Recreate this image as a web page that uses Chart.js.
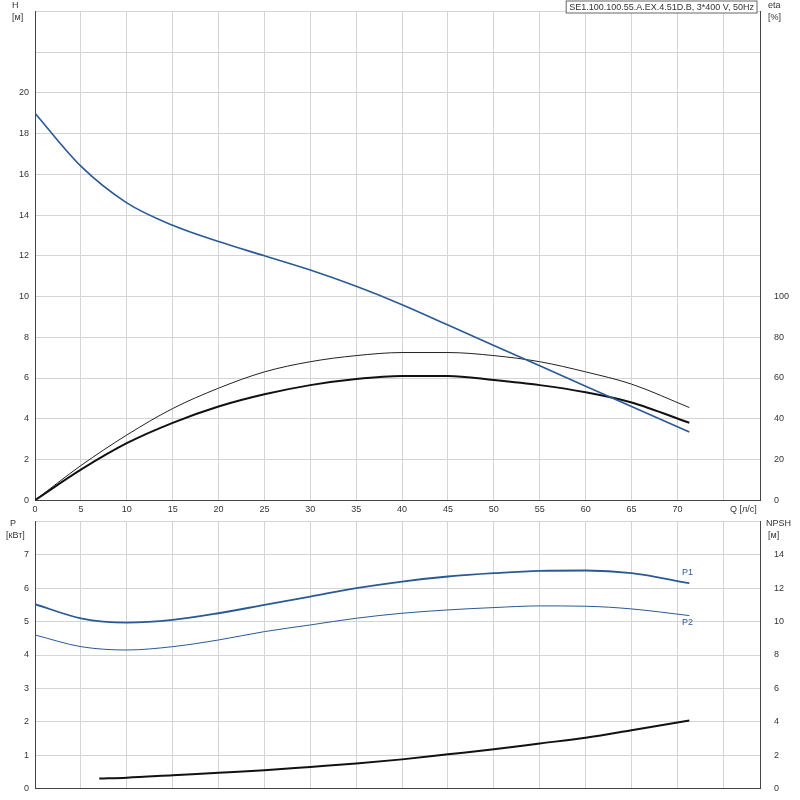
<!DOCTYPE html>
<html><head><meta charset="utf-8">
<script src="https://cdn.jsdelivr.net/npm/chart.js@4"></script>
<style>body{margin:0;background:#fff}#a{position:absolute;left:0;top:0;width:800px;height:519px}#b{position:absolute;left:0;top:510px;width:800px;height:290px}</style>
</head><body>
<div id="a"><canvas id="c1"></canvas></div>
<div id="b"><canvas id="c2"></canvas></div>
<script>
const q = [0,5,10,15,20,25,30,35,40,45,50,55,60,65,71.3];
const head = [19,16.4,14.6,13.5,12.7,12.0,11.3,10.5,9.6,8.6,7.6,6.6,5.6,4.6,3.35];
const etaPump = [0,17,32,45,55,63,68,71,72.5,72.5,71,68,63,57,45.5];
const etaTotal = [0,15,28,38,46,52,56.5,59.5,61,61,59,56.5,53,48,38];
const p1 = [5.52,5.1,4.97,5.05,5.25,5.5,5.75,6.0,6.2,6.35,6.45,6.52,6.53,6.45,6.15];
const p2 = [4.6,4.25,4.15,4.25,4.45,4.7,4.9,5.1,5.25,5.35,5.42,5.47,5.46,5.38,5.18];
const qN = [7,10,15,20,25,30,35,40,45,50,55,60,65,71.3];
const npsh = [0.6,0.65,0.8,0.95,1.1,1.3,1.5,1.75,2.05,2.35,2.7,3.05,3.5,4.08];
const title = "SE1.100.100.55.A.EX.4.51D.B, 3*400 V, 50Hz";

const F = {family:"Liberation Sans, Arial, sans-serif", size:9};
Chart.defaults.font = F; Chart.defaults.color = '#333';
const pts = (xs,ys)=>xs.map((x,i)=>({x,y:ys[i]}));
const ds = (data,color,w,axis,label)=>({label,data,borderColor:color,borderWidth:w,pointRadius:0,tension:0.4,cubicInterpolationMode:'monotone',yAxisID:axis,fill:false});
const grid = {color:'#d4d4d4',drawTicks:false};
const border = {color:'#444'};
function xAxis(show){return {type:'linear',min:0,max:79,grid,border,ticks:{display:show,stepSize:5,padding:4,callback:v=>v<=70?v:''}};}
function fitW(w){return s=>{s.width=w;};}
const textPlugin = (items)=>({id:'t',afterDraw(c){const x=c.ctx;x.save();x.font="9px Liberation Sans, Arial";x.fillStyle='#333';items(c,x);x.restore();}});

new Chart(document.getElementById('c1'),{type:'line',
data:{datasets:[ds(pts(q,head),'#2a5a95',1.6,'y','H'),ds(pts(q,etaPump),'#222',1,'y2','eta'),ds(pts(q,etaTotal),'#111',2,'y2','eta tot')]},
options:{responsive:true,maintainAspectRatio:false,animation:false,layout:{padding:{top:-11,bottom:0}},
plugins:{legend:{display:false},tooltip:{enabled:false}},
scales:{x:xAxis(true),
y:{min:0,max:24,grid,border,afterFit:fitW(35),ticks:{stepSize:2,padding:6,callback:v=>v<=20?v:''}},
y2:{position:'right',min:0,max:240,grid:{display:false},border,afterFit:fitW(40),ticks:{stepSize:20,padding:6,callback:v=>v<=100?v:''}}}},
plugins:[textPlugin((c,x)=>{x.textAlign='left';x.fillText('H',12,8);x.fillText('[м]',12,20);x.fillText('eta',768,8);x.fillText('[%]',768,20);
x.fillText('Q [л/с]',730,512);
const w=x.measureText(title).width;x.fillStyle='#fff';x.fillRect(757-w-6,1,w+6,12);x.strokeStyle='#666';x.strokeRect(757-w-6,1,w+6,12);x.fillStyle='#333';x.fillText(title,757-w-3,10);})]
});

new Chart(document.getElementById('c2'),{type:'line',
data:{datasets:[ds(pts(q,p1),'#2a5a95',1.8,'y','P1'),ds(pts(q,p2),'#2a5a95',1,'y','P2'),ds(pts(qN,npsh),'#111',2,'y2','NPSH')]},
options:{responsive:true,maintainAspectRatio:false,animation:false,layout:{padding:{top:0,bottom:-2}},
plugins:{legend:{display:false},tooltip:{enabled:false}},
scales:{x:xAxis(false),
y:{min:0,max:8,grid,border,afterFit:fitW(35),ticks:{stepSize:1,padding:6,callback:v=>v<=7?v:''}},
y2:{position:'right',min:0,max:16,grid:{display:false},border,afterFit:fitW(40),ticks:{stepSize:2,padding:6,callback:v=>v<=14?v:''}}}},
plugins:[textPlugin((c,x)=>{x.textAlign='left';x.fillText('P',10,16);x.fillText('[кВт]',6,28);x.fillText('NPSH',766,16);x.fillText('[м]',768,28);
const xs=c.scales.x,ys=c.scales.y;x.fillStyle='#2a5a95';x.fillText('P1',xs.getPixelForValue(70.5),ys.getPixelForValue(6.4));x.fillText('P2',xs.getPixelForValue(70.5),ys.getPixelForValue(4.9));})]
});
</script></body></html>
